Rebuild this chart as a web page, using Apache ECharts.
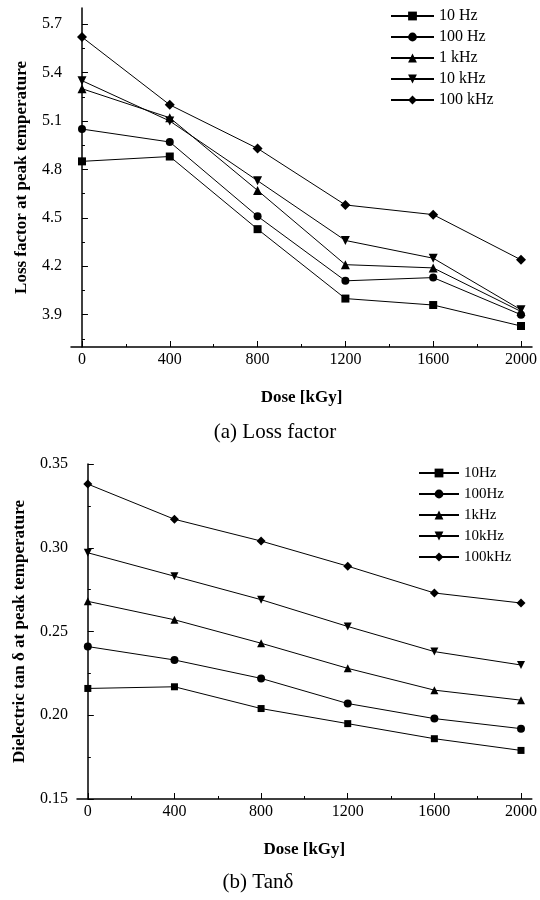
<!DOCTYPE html>
<html><head><meta charset="utf-8">
<script src="https://cdn.jsdelivr.net/npm/echarts@6/dist/echarts.min.js"></script>
<style>html,body{margin:0;padding:0;background:#fff}#c{width:540px;height:900px}</style>
</head><body><div id="c"></div>
<script>
const doses = [0, 400, 800, 1200, 1600, 2000];
const namesA = ['10 Hz', '100 Hz', '1 kHz', '10 kHz', '100 kHz'];
const namesB = ['10Hz', '100Hz', '1kHz', '10kHz', '100kHz'];
const loss10Hz = [4.85, 4.88, 4.43, 4.00, 3.96, 3.83];
const loss100Hz = [5.05, 4.97, 4.51, 4.11, 4.13, 3.90];
const loss1kHz = [5.30, 5.12, 4.67, 4.21, 4.19, 3.92];
const loss10kHz = [5.35, 5.10, 4.73, 4.36, 4.25, 3.93];
const loss100kHz = [5.62, 5.20, 4.93, 4.58, 4.52, 4.24];
const tan10Hz = [0.216, 0.217, 0.204, 0.195, 0.186, 0.179];
const tan100Hz = [0.241, 0.233, 0.222, 0.207, 0.198, 0.192];
const tan1kHz = [0.268, 0.257, 0.243, 0.228, 0.215, 0.209];
const tan10kHz = [0.297, 0.283, 0.269, 0.253, 0.238, 0.230];
const tan100kHz = [0.338, 0.317, 0.304, 0.289, 0.273, 0.267];
const xMajorTicks = [0, 400, 800, 1200, 1600, 2000];
const xMinorTicks = [200, 600, 1000, 1400, 1800];
const lossMajorTicks = [3.9, 4.2, 4.5, 4.8, 5.1, 5.4, 5.7];
const lossMinorTicks = [3.75, 4.05, 4.35, 4.65, 4.95, 5.25, 5.55];
const tanMajorTicks = [0.15, 0.20, 0.25, 0.30, 0.35];
const tanMinorTicks = [0.175, 0.225, 0.275, 0.325];

const FONT = 'Liberation Serif';
const symbols = [
  {symbol: 'rect', rot: 0},
  {symbol: 'circle', rot: 0},
  {symbol: 'triangle', rot: 0},
  {symbol: 'triangle', rot: 180},
  {symbol: 'diamond', rot: 0}
];
const sizesA = [8, 8, 9, 9, 10];
const sizesB = [7, 8, 8, 8, 9];
const lossData = [loss10Hz, loss100Hz, loss1kHz, loss10kHz, loss100kHz];
const tanData = [tan10Hz, tan100Hz, tan1kHz, tan10kHz, tan100kHz];

function pairs(vals) { return doses.map((d, i) => [d, vals[i]]); }

function majorX(gridIndex, fs, nameGap) {
  return {
    type: 'value', gridIndex, min: -50, max: 2050,
    name: 'Dose [kGy]', nameLocation: 'middle', nameGap,
    nameTextStyle: {fontFamily: FONT, fontWeight: 'bold', fontSize: 17, color: '#000'},
    axisLine: {show: true, lineStyle: {color: '#000', width: 1.5}},
    axisTick: {show: true, inside: true, length: 6, customValues: xMajorTicks, lineStyle: {color: '#000', width: 1}},
    axisLabel: {show: true, customValues: xMajorTicks, margin: 5, fontFamily: FONT, fontSize: fs, color: '#000', formatter: v => String(v)},
    splitLine: {show: false}
  };
}
function minorX(gridIndex) {
  return {
    type: 'value', gridIndex, min: -50, max: 2050, position: 'bottom',
    axisLine: {show: false},
    axisTick: {show: true, inside: true, length: 3, customValues: xMinorTicks, lineStyle: {color: '#000', width: 1}},
    axisLabel: {show: false, customValues: xMinorTicks},
    splitLine: {show: false}
  };
}
function majorY(gridIndex, min, max, ticks, name, fs, nameGap, fmt) {
  return {
    type: 'value', gridIndex, min, max,
    name, nameLocation: 'middle', nameGap,
    nameTextStyle: {fontFamily: FONT, fontWeight: 'bold', fontSize: 17, color: '#000'},
    axisLine: {show: true, lineStyle: {color: '#000', width: 1.5}},
    axisTick: {show: true, inside: true, length: 6, customValues: ticks, lineStyle: {color: '#000', width: 1}},
    axisLabel: {show: true, customValues: ticks, margin: 9, fontFamily: FONT, fontSize: fs, color: '#000', formatter: fmt},
    splitLine: {show: false}
  };
}
function minorY(gridIndex, min, max, ticks) {
  return {
    type: 'value', gridIndex, min, max, position: 'left',
    axisLine: {show: false},
    axisTick: {show: true, inside: true, length: 3, customValues: ticks, lineStyle: {color: '#000', width: 1}},
    axisLabel: {show: false, customValues: ticks},
    splitLine: {show: false}
  };
}

const series = [];
for (let i = 0; i < 5; i++) {
  series.push({
    type: 'line', name: namesA[i], xAxisIndex: 0, yAxisIndex: 0,
    data: pairs(lossData[i]), symbol: symbols[i].symbol, symbolRotate: symbols[i].rot,
    symbolSize: sizesA[i], showAllSymbol: true,
    lineStyle: {color: '#000', width: 1}, itemStyle: {color: '#000'}, animation: false
  });
}
for (let i = 0; i < 5; i++) {
  series.push({
    type: 'line', name: namesB[i], xAxisIndex: 2, yAxisIndex: 2,
    data: pairs(tanData[i]), symbol: symbols[i].symbol, symbolRotate: symbols[i].rot,
    symbolSize: sizesB[i], showAllSymbol: true,
    lineStyle: {color: '#000', width: 1}, itemStyle: {color: '#000'}, animation: false
  });
}

const chart = echarts.init(document.getElementById('c'), null, {renderer: 'canvas'});
chart.setOption({
  backgroundColor: '#fff',
  animation: false,
  grid: [
    {left: 71, top: 8, width: 461, height: 339},
    {left: 77, top: 464, width: 458, height: 335}
  ],
  xAxis: [majorX(0, 16, 42), minorX(0), majorX(1, 16, 42), minorX(1)],
  yAxis: [
    majorY(0, 3.7, 5.8, lossMajorTicks, 'Loss factor at peak temperature', 16, 41, v => v.toFixed(1)),
    minorY(0, 3.7, 5.8, lossMinorTicks),
    majorY(1, 0.15, 0.35, tanMajorTicks, 'Dielectric tan \u03b4 at peak temperature', 16, 49, v => v.toFixed(2)),
    minorY(1, 0.15, 0.35, tanMinorTicks)
  ],
  legend: [
    {data: namesA, orient: 'vertical', left: 385, top: 3, itemWidth: 43, itemHeight: 11, itemGap: 5,
     textStyle: {fontFamily: FONT, fontSize: 16, color: '#000', lineHeight: 16}},
    {data: namesB, orient: 'vertical', left: 413, top: 460, itemWidth: 40, itemHeight: 11, itemGap: 5,
     textStyle: {fontFamily: FONT, fontSize: 15, color: '#000', lineHeight: 16}}
  ],
  graphic: [
    {type: 'text', x: 275, y: 432, style: {text: '(a) Loss factor', fontFamily: FONT, fontSize: 21, fill: '#000', textAlign: 'center', textVerticalAlign: 'middle'}},
    {type: 'text', x: 258, y: 882, style: {text: '(b) Tan\u03b4', fontFamily: FONT, fontSize: 21, fill: '#000', textAlign: 'center', textVerticalAlign: 'middle'}}
  ],
  series
});
</script></body></html>
